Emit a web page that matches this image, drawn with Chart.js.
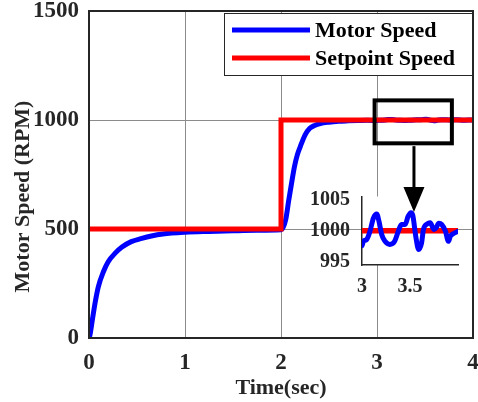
<!DOCTYPE html>
<html>
<head>
<meta charset="utf-8">
<script src="https://cdn.jsdelivr.net/npm/chart.js@4.4.0/dist/chart.umd.min.js"></script>
<style>
  html, body { margin: 0; padding: 0; background: #fff; }
  #wrap { position: relative; width: 478px; height: 402px; }
  #wrap canvas { position: absolute; left: 0; top: 0; }
</style>
</head>
<body>
<div id="wrap">
  <canvas id="mainChart" width="478" height="402"></canvas>
  <canvas id="insetChart" width="478" height="402"></canvas>
</div>
<script>
// --- DATA ---
const timeSec = [0, 0.01, 0.035, 0.0625, 0.097, 0.15, 0.2, 0.27, 0.34, 0.44,
  0.55, 0.65, 0.77, 1.0, 1.25, 1.5, 1.75, 2.0, 2.02, 2.05,
  2.08, 2.11, 2.14, 2.17, 2.2, 2.25, 2.3, 2.35, 2.41, 2.5,
  2.6, 2.7, 2.8, 2.9, 2.95, 3.0, 3.014, 3.049, 3.083, 3.118,
  3.153, 3.177, 3.205, 3.24, 3.29, 3.34, 3.378, 3.41, 3.45, 3.48,
  3.51, 3.53, 3.56, 3.59, 3.62, 3.64, 3.68, 3.71, 3.75, 3.77,
  3.80, 3.83, 3.87, 3.90, 3.92, 3.96, 4.0];
const motorSpeed = [0, 14, 83, 159, 235, 304, 350, 388, 416, 442,
  457, 468, 477, 485, 489, 492, 494, 496, 505, 545,
  630, 710, 786, 840, 877, 931, 962, 975, 984, 990,
  994, 996, 997.5, 998.5, 998.2, 997.6, 998.3, 998.6, 999.9, 1002.0,
  1002.7, 1001.5, 999.4, 998.3, 997.8, 998.3, 999.9, 1001.0, 1001.0, 1002.3,
  1002.9, 1002.4, 999.1, 997.0, 998.0, 1000.2, 1001.1, 1001.3, 1000.2, 1000.4,
  1001.2, 1001.0, 999.9, 998.3, 999.1, 999.6, 999.9];
const setpointTime = [0, 2, 2, 4];
const setpointSpeed = [500, 500, 1000, 1000];

const seriesLabels = ['Motor Speed', 'Setpoint Speed'];
const xTicks = [0, 1, 2, 3, 4];
const yTicks = [0, 500, 1000, 1500];
const insetXTicks = [3, 3.5];
const insetYTicks = [995, 1000, 1005];

// zoom window + arrow on the big plot (data units)
const zoomBox = { xMin: 2.975, xMax: 3.78, yMin: 893, yMax: 1090 };
const arrowFrom = { x: 3.385, y: 880 };
const arrowTo = { x: 3.385, y: 578 };

const FONT = "'Liberation Serif', 'Times New Roman', serif";
const INK = '#262626';
const BLUE = '#0000ff';
const RED = '#ff0000';

const toPoints = (xs, ys) => xs.map((x, i) => ({ x: x, y: ys[i] }));
const fixTicks = (values) => (scale) => { scale.ticks = values.map(v => ({ value: v })); };
const boldFont = (size) => ({ family: FONT, size: size, weight: 'bold', lineHeight: 1.2 });

// --- PLUGINS ---
const axesBox = {
  id: 'axesBox',
  afterDatasetsDraw(chart) {
    const { ctx, chartArea: a } = chart;
    ctx.save();
    ctx.strokeStyle = INK;
    ctx.lineWidth = 2;
    ctx.strokeRect(a.left, a.top, a.right - a.left, a.bottom - a.top);
    ctx.restore();
  }
};

const yTitle = {
  id: 'yTitle',
  afterDraw(chart) {
    const ctx = chart.ctx;
    ctx.save();
    ctx.translate(23, 196.5);
    ctx.rotate(-Math.PI / 2);
    ctx.font = 'bold 22px ' + FONT;
    ctx.fillStyle = INK;
    ctx.textAlign = 'center';
    ctx.textBaseline = 'middle';
    ctx.fillText('Motor Speed (RPM)', 0, 0);
    ctx.restore();
  }
};

const zoomMarker = {
  id: 'zoomMarker',
  afterDraw(chart) {
    const { ctx, scales: { x, y } } = chart;
    const x0 = x.getPixelForValue(zoomBox.xMin), x1 = x.getPixelForValue(zoomBox.xMax);
    const y0 = y.getPixelForValue(zoomBox.yMax), y1 = y.getPixelForValue(zoomBox.yMin);
    ctx.save();
    ctx.strokeStyle = '#000';
    ctx.lineWidth = 4;
    ctx.strokeRect(x0, y0, x1 - x0, y1 - y0);
    ctx.restore();
  }
};

const boxLegend = {
  id: 'boxLegend',
  afterDraw(chart) {
    const ctx = chart.ctx;
    const left = 224, top = 13, w = 248, h = 62;
    ctx.save();
    ctx.fillStyle = '#fff';
    ctx.fillRect(left, top, w, h);
    ctx.strokeStyle = INK;
    ctx.lineWidth = 1;
    ctx.strokeRect(left + 0.5, top + 0.5, w, h);
    ctx.font = 'bold 22px ' + FONT;
    ctx.textBaseline = 'middle';
    ctx.textAlign = 'left';
    chart.data.datasets.forEach((ds, i) => {
      const yy = top + 17 + i * 28;
      ctx.strokeStyle = ds.borderColor;
      ctx.lineWidth = 5;
      ctx.beginPath();
      ctx.moveTo(left + 8, yy);
      ctx.lineTo(left + 86, yy);
      ctx.stroke();
      ctx.fillStyle = '#000';
      ctx.fillText(ds.label, left + 91, yy + 1);
    });
    ctx.restore();
  }
};

const insetBackground = {
  id: 'insetBackground',
  beforeDraw(chart) {
    const { ctx, chartArea: a } = chart;
    ctx.save();
    ctx.fillStyle = '#fff';
    ctx.fillRect(a.left, a.top, a.right - a.left, a.bottom - a.top);
    ctx.restore();
  }
};

// arrow goes on top of everything, so it lives on the inset canvas
// but uses the main chart's scales (both canvases are the same size)
const zoomArrow = {
  id: 'zoomArrow',
  afterDraw(chart) {
    const ctx = chart.ctx;
    const sx = mainChart.scales.x, sy = mainChart.scales.y;
    const ax = sx.getPixelForValue(arrowFrom.x), ay = sy.getPixelForValue(arrowFrom.y);
    const bx = sx.getPixelForValue(arrowTo.x), by = sy.getPixelForValue(arrowTo.y);
    const headLen = 25, headHalf = 10.5;
    ctx.save();
    ctx.strokeStyle = '#000';
    ctx.fillStyle = '#000';
    ctx.lineWidth = 3;
    ctx.beginPath();
    ctx.moveTo(ax, ay);
    ctx.lineTo(bx, by - headLen + 2);
    ctx.stroke();
    ctx.beginPath();
    ctx.moveTo(bx, by);
    ctx.lineTo(bx - headHalf, by - headLen);
    ctx.lineTo(bx + headHalf, by - headLen);
    ctx.closePath();
    ctx.fill();
    ctx.restore();
  }
};

// --- MAIN CHART ---
const mainChart = new Chart(document.getElementById('mainChart'), {
  type: 'line',
  data: {
    datasets: [
      { label: seriesLabels[0], data: toPoints(timeSec, motorSpeed), borderColor: BLUE, borderWidth: 5,
        pointRadius: 0, cubicInterpolationMode: 'monotone', borderJoinStyle: 'round', borderCapStyle: 'round', order: 1 },
      { label: seriesLabels[1], data: toPoints(setpointTime, setpointSpeed), borderColor: RED, borderWidth: 5,
        pointRadius: 0, tension: 0, borderJoinStyle: 'miter', order: 0 }
    ]
  },
  options: {
    responsive: false,
    animation: false,
    devicePixelRatio: 1,
    events: [],
    layout: { padding: { left: 0, top: 11, right: 5, bottom: 0 } },
    plugins: { legend: { display: false }, tooltip: { enabled: false } },
    scales: {
      x: {
        type: 'linear', min: 0, max: 4,
        afterBuildTicks: fixTicks(xTicks),
        afterFit: (s) => { s.height = 64; s.paddingLeft = 0; s.paddingRight = 0; },
        grid: { color: '#8c8c8c', lineWidth: 1, drawTicks: false },
        border: { color: INK, width: 2 },
        ticks: { padding: 11, color: INK, font: boldFont(23), maxRotation: 0, autoSkip: false, callback: v => String(v) },
        title: { display: true, text: 'Time(sec)', color: INK, font: boldFont(22), padding: { top: 0, bottom: 0 } }
      },
      y: {
        type: 'linear', min: 0, max: 1500,
        afterBuildTicks: fixTicks(yTicks),
        afterFit: (s) => { s.width = 89; s.paddingTop = 0; s.paddingBottom = 0; },
        grid: { color: '#8c8c8c', lineWidth: 1, drawTicks: false },
        border: { color: INK, width: 2 },
        ticks: { padding: 10, color: INK, font: boldFont(23), autoSkip: false, callback: v => String(v) }
      }
    }
  },
  plugins: [axesBox, yTitle, zoomMarker, boxLegend]
});

// --- INSET (zoomed view 3..4 s) ---
// scale boxes need real sizes, otherwise the tick labels get clipped away
new Chart(document.getElementById('insetChart'), {
  type: 'line',
  data: {
    datasets: [
      { label: seriesLabels[0], data: toPoints(timeSec, motorSpeed), borderColor: BLUE, borderWidth: 5,
        pointRadius: 0, cubicInterpolationMode: 'monotone', borderJoinStyle: 'round', borderCapStyle: 'round', order: 0 },
      { label: seriesLabels[1], data: toPoints(setpointTime, setpointSpeed), borderColor: RED, borderWidth: 5.5,
        pointRadius: 0, tension: 0, order: 1 }
    ]
  },
  options: {
    responsive: false,
    animation: false,
    devicePixelRatio: 1,
    events: [],
    layout: { padding: { left: 300, top: 196.5, right: 20, bottom: 97 } },
    plugins: { legend: { display: false }, tooltip: { enabled: false } },
    scales: {
      x: {
        type: 'linear', min: 3, max: 4,
        afterBuildTicks: fixTicks(insetXTicks),
        afterFit: (s) => { s.height = 40; s.paddingLeft = 0; s.paddingRight = 0; },
        grid: { color: 'rgba(0,0,0,0)', drawTicks: false },
        border: { color: INK, width: 1.5 },
        ticks: { padding: 10, color: INK, font: boldFont(20), maxRotation: 0, autoSkip: false, callback: v => String(v) }
      },
      y: {
        type: 'linear', min: 994.5, max: 1005.5,
        afterBuildTicks: fixTicks(insetYTicks),
        afterFit: (s) => { s.width = 62; s.paddingTop = 0; s.paddingBottom = 0; },
        grid: { color: 'rgba(0,0,0,0)', drawTicks: false },
        border: { color: INK, width: 1.5 },
        ticks: { padding: 12, color: INK, font: boldFont(20), autoSkip: false, callback: v => String(v) }
      }
    }
  },
  plugins: [insetBackground, zoomArrow]
});
</script>
</body>
</html>
